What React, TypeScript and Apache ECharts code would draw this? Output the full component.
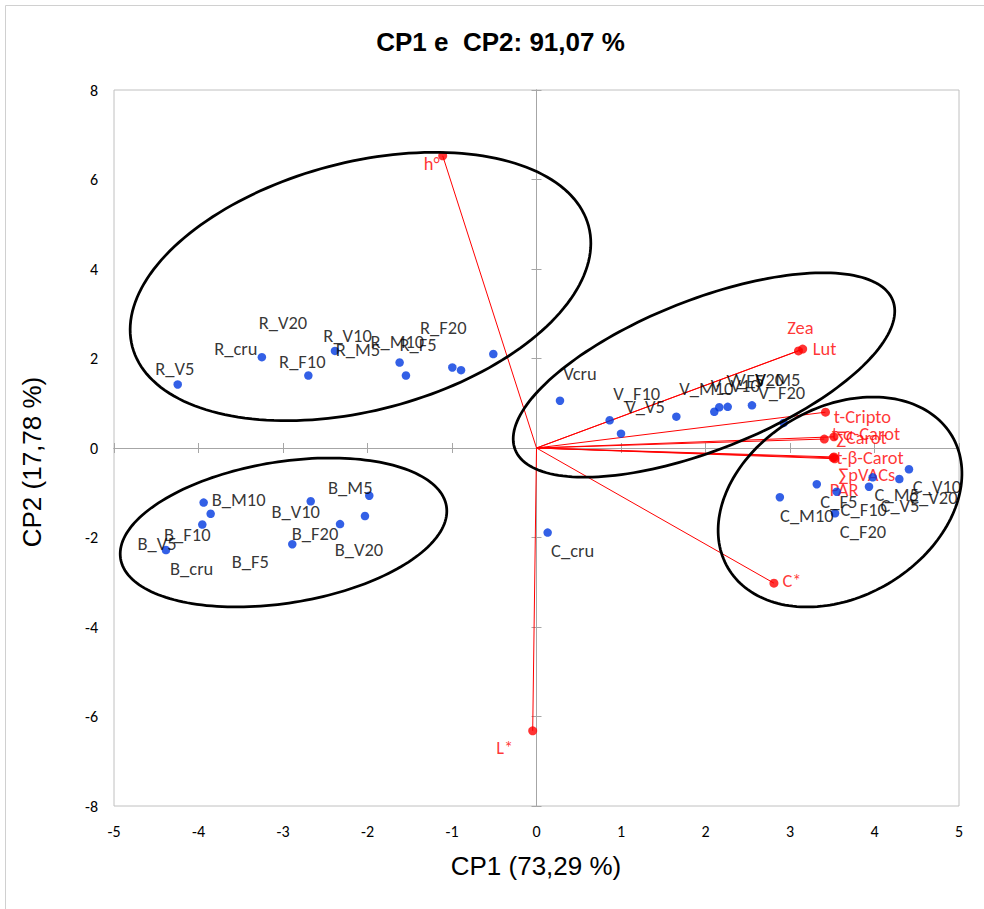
import React, { useEffect, useRef } from "react";
import * as echarts from "echarts";

// Axis ranges
const xMin = -5, xMax = 5, xStep = 1;
const yMin = -8, yMax = 8, yStep = 2;

// Observations (scores)
const obsNames = [
  "R_V5", "R_cru", "R_F10", "R_V20", "R_V10", "R_M5", "R_M10", "R_F5", "R_F20",
  "B_M10", "B_cru", "B_F10", "B_V5", "B_F5", "B_V10", "B_F20", "B_V20", "B_M5",
  "Vcru", "V_F10", "V_V5", "V_M10", "V_V10", "V_F5", "V_V20", "V_M5", "V_F20",
  "C_cru", "C_F5", "C_M10", "C_F10", "C_F20", "C_V5", "C_M5", "C_V20", "C_V10",
];
const obsX = [
  -4.246, -3.25, -2.7, -2.385, -1.62, -1.545, -0.996, -0.893, -0.511,
  -3.939, -3.856, -3.955, -4.385, -2.89, -2.672, -2.325, -2.03, -1.979,
  0.278, 0.866, 1.0, 1.655, 2.104, 2.163, 2.263, 2.55, 2.925,
  0.132, 3.317, 2.88, 3.553, 3.533, 3.935, 3.979, 4.294, 4.408,
];
const obsY = [
  1.42, 2.03, 1.62, 2.17, 1.91, 1.62, 1.8, 1.74, 2.1,
  -1.22, -1.47, -1.71, -2.28, -2.15, -1.19, -1.7, -1.52, -1.066,
  1.057, 0.62, 0.32, 0.7, 0.81, 0.91, 0.92, 0.954, 0.56,
  -1.89, -0.81, -1.1, -0.977, -1.46, -0.865, -0.655, -0.693, -0.476,
];
// label offsets (px) relative to the point
const obsLabelDx = [
  -3, -26, -6, -52, -52, -48, -55, -43, -50,
  35, -19, -15, -9, -42, -15, -25, -6, -19,
  20, 27, 24, 30, 21, 26, 32, 26, -2,
  25, 22, 27, 27, 28, 31, 24, 34, 28,
];
const obsLabelDy = [
  -16, -9, -14, -28, -27, -26, -26, -26, -27,
  -3, 55, 10, -7, 17, 10, 9, 33, -8,
  -27, -27, -27, -28, -26, -27, -27, -26, -30,
  18, 17, 18, 18, 18, 19, 17, 18, 17,
];

// Variables (loadings)
const varNames = ["h°", "L*", "C*", "Zea", "Lut", "t-Cripto", "∑Carot", "t-α-Carot", "t-β-Carot", "∑pVACs", "PAR"];
const varX = [-1.11, -0.045, 2.81, 3.1, 3.15, 3.42, 3.406, 3.52, 3.52, 3.53, 3.51];
const varY = [6.53, -6.32, -3.02, 2.17, 2.21, 0.8, 0.2, 0.25, -0.2, -0.24, -0.22];
const varLabelDx = [-11, -28, 18, 2, 22, 37, 37, 32, 36, 32, 11];
const varLabelDy = [8, 17, -3, -23, -1, 4, -2, -3, 1, 16, 32];

// Group ellipses (data units): centre, and two conjugate half-axis vectors
const ellipseCx = [-2.083, -2.994, 1.982, 3.592];
const ellipseCy = [3.609, -1.888, 1.631, -1.207];
const ellipseUx = [2.7, 1.928, 2.234, 1.3255];
const ellipseUy = [1.347, 0.586, 1.67, 1.4743];
const ellipseVx = [0.3748, 0.1328, 0.3267, 0.5694];
const ellipseVy = [-2.679, -1.558, -1.558, -1.8252];

const LABEL_FONT = "Carlito, Calibri, Lato, sans-serif";
const AXIS_FONT = "'Liberation Sans', Arial, sans-serif";

export default function App() {
  const ref = useRef<HTMLDivElement>(null);
  useEffect(() => {
    if (!ref.current) return;
    const chart = echarts.init(ref.current, null, { renderer: "svg" });

    const baseAxis = { type: "value", min: xMin, max: xMax, interval: xStep, splitLine: { show: false } };
    const baseYAxis = { type: "value", min: yMin, max: yMax, interval: yStep, splitLine: { show: false } };
    const zeroLine = { onZero: true, onZeroAxisIndex: 0, lineStyle: { color: "#a6a6a6", width: 1 } };
    const zeroTick = { show: true, length: 5, lineStyle: { color: "#a6a6a6", width: 1 } };

    const option: any = {
      animation: false,
      backgroundColor: "#ffffff",
      grid: { left: 114, right: 25, top: 90, bottom: 103, show: true, borderColor: "#c0c0c0", borderWidth: 1 },
      xAxis: [
        {
          ...baseAxis, position: "bottom",
          axisLine: { show: false, onZero: false }, axisTick: { show: false },
          axisLabel: { show: true, margin: 17, color: "#000", fontSize: 16, fontFamily: LABEL_FONT },
        },
        { ...baseAxis, position: "bottom", axisLine: zeroLine, axisTick: zeroTick, axisLabel: { show: false } },
        { ...baseAxis, position: "top", axisLine: zeroLine, axisTick: zeroTick, axisLabel: { show: false } },
      ],
      yAxis: [
        {
          ...baseYAxis, position: "left",
          axisLine: { show: false, onZero: false }, axisTick: { show: false },
          axisLabel: { show: true, margin: 16, color: "#000", fontSize: 16, fontFamily: LABEL_FONT },
        },
        { ...baseYAxis, position: "left", axisLine: zeroLine, axisTick: zeroTick, axisLabel: { show: false } },
        { ...baseYAxis, position: "right", axisLine: zeroLine, axisTick: zeroTick, axisLabel: { show: false } },
      ],
      graphic: [
        {
          type: "rect", silent: true, z: -10,
          shape: { x: 5.5, y: 5.5, width: 1200, height: 1200 },
          style: { fill: "none", stroke: "#d0d0d0", lineWidth: 1 },
        },
        {
          type: "text", x: 500.5, y: 42,
          style: {
            text: "CP1 e  CP2: 91,07 %", fill: "#000", font: `bold 26px ${AXIS_FONT}`,
            textAlign: "center", textVerticalAlign: "middle",
          },
        },
        {
          type: "text", x: 536, y: 866,
          style: {
            text: "CP1 (73,29 %)", fill: "#000", font: `26px ${AXIS_FONT}`,
            textAlign: "center", textVerticalAlign: "middle",
          },
        },
        {
          type: "text", x: 32, y: 462, rotation: Math.PI / 2,
          style: {
            text: "CP2 (17,78 %)", fill: "#000", font: `26px ${AXIS_FONT}`,
            textAlign: "center", textVerticalAlign: "middle",
          },
        },
      ],
      series: [
        {
          type: "lines",
          coordinateSystem: "cartesian2d",
          xAxisIndex: 0, yAxisIndex: 0,
          silent: true,
          lineStyle: { color: "#ff0000", width: 1, opacity: 1 },
          data: varNames.map((_, i) => ({ coords: [[0, 0], [varX[i], varY[i]]] })),
          z: 3,
        },
        {
          type: "scatter",
          xAxisIndex: 0, yAxisIndex: 0,
          symbol: "circle", symbolSize: 9,
          itemStyle: { color: "#ff0000" },
          label: {
            show: true, position: "inside", color: "#ff0000", fontSize: 18.5, fontFamily: LABEL_FONT,
            formatter: (p: any) => p.name,
          },
          data: varNames.map((n, i) => ({
            name: n, value: [varX[i], varY[i]],
            label: { offset: [varLabelDx[i], varLabelDy[i]] },
          })),
          z: 4,
        },
        {
          type: "scatter",
          xAxisIndex: 0, yAxisIndex: 0,
          symbol: "circle", symbolSize: 8.5,
          itemStyle: { color: "#0038e0" },
          label: {
            show: true, position: "inside", color: "#000", fontSize: 18.5, fontFamily: LABEL_FONT,
            formatter: (p: any) => p.name,
          },
          data: obsNames.map((n, i) => ({
            name: n, value: [obsX[i], obsY[i]],
            label: { offset: [obsLabelDx[i], obsLabelDy[i]] },
          })),
          z: 5,
        },
        {
          type: "custom",
          xAxisIndex: 0, yAxisIndex: 0,
          silent: true,
          clip: false,
          data: ellipseCx.map((_, i) => [i]),
          renderItem: (params: any, api: any) => {
            const i = params.dataIndex;
            const pts: number[][] = [];
            const n = 180;
            for (let k = 0; k < n; k++) {
              const t = (2 * Math.PI * k) / n;
              const dx = ellipseCx[i] + ellipseUx[i] * Math.cos(t) + ellipseVx[i] * Math.sin(t);
              const dy = ellipseCy[i] + ellipseUy[i] * Math.cos(t) + ellipseVy[i] * Math.sin(t);
              pts.push(api.coord([dx, dy]));
            }
            return {
              type: "polygon",
              shape: { points: pts },
              style: { fill: "none", stroke: "#000", lineWidth: 2.75 },
            };
          },
          z: 6,
        },
      ],
    };
    chart.setOption(option);
    return () => chart.dispose();
  }, []);
  return (
    <div
      ref={ref}
      style={{ position: "fixed", left: 0, top: 0, width: 984, height: 909, background: "#fff" }}
    />
  );
}
